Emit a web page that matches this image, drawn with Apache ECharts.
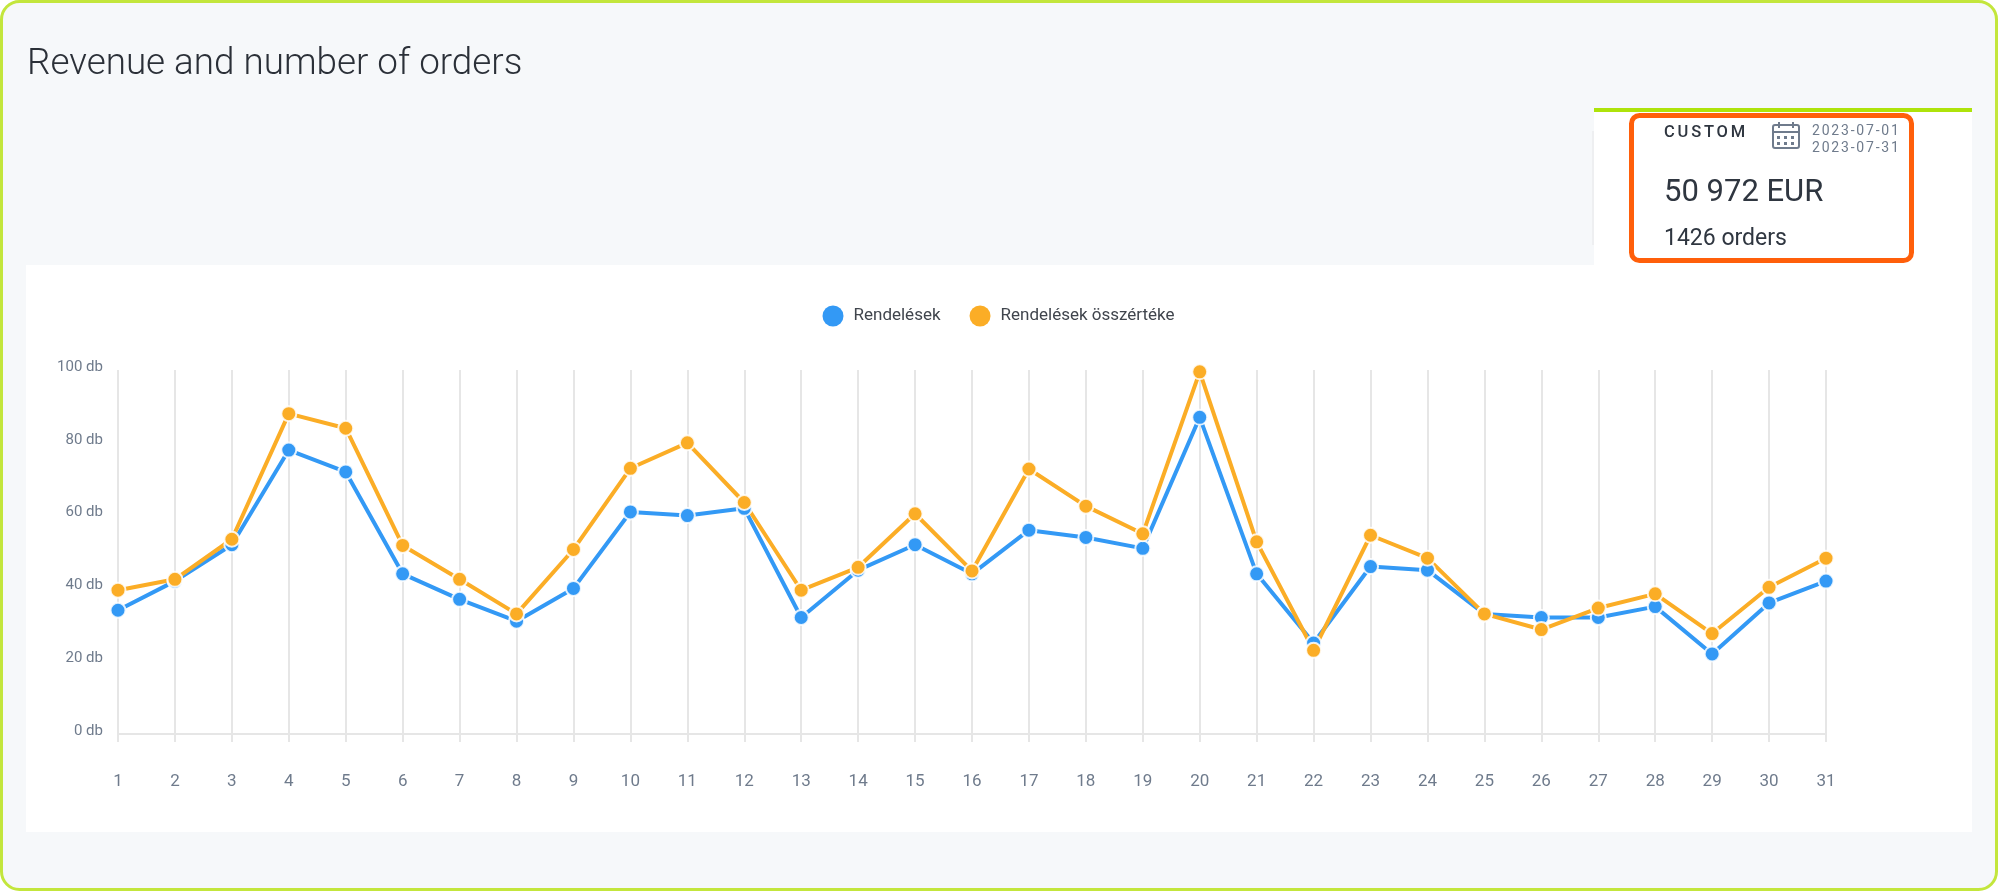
<!DOCTYPE html>
<html>
<head>
<meta charset="utf-8">
<style>
html, body { margin: 0; padding: 0; background: #fff; }
#revenue-orders { width: 1998px; height: 891px; }
.card-text { position: absolute; font-family: Roboto; white-space: nowrap; line-height: 20px; color: #2f3640; }
.period { left: 1664px; top: 122px; font-size: 16.5px; font-weight: 500; letter-spacing: 2.8px; }
.date { left: 1812px; font-size: 14px; letter-spacing: 1.8px; color: #6f7b8c; }
.total { left: 1664px; top: 181px; font-size: 31px; }
.count { left: 1664px; top: 228px; font-size: 23px; }
</style>
</head>
<body>
<div id="revenue-orders"></div>
<div class="card-text period">CUSTOM</div>
<div class="card-text date" style="top:120px">2023-07-01</div>
<div class="card-text date" style="top:137px">2023-07-31</div>
<div class="card-text total">50 972 EUR</div>
<div class="card-text count">1426 orders</div>
<script src="https://cdn.jsdelivr.net/npm/echarts@6/dist/echarts.min.js"></script>
<script>
var days = ['1','2','3','4','5','6','7','8','9','10','11','12','13','14','15','16','17','18','19','20','21','22','23','24','25','26','27','28','29','30','31'];
var orders = [34,42,52,78,72,44,37,31,40,61,60,62,32,45,52,44,56,54,51,87,44,25,46,45,33,32,32,35,22,36,42];
// second series is on a hidden EUR scale, read here against the db axis
var orderValue = [39.5,42.5,53.5,88,84,51.8,42.5,33,50.7,73,80,63.6,39.5,45.8,60.5,44.8,72.8,62.6,55,99.5,52.8,23,54.6,48.3,33,28.7,34.6,38.5,27.6,40.3,48.3];
var seriesNames = ['Rendelések', 'Rendelések összértéke'];
var seriesColors = ['#3399f5', '#fbad26'];

var chart = echarts.init(document.getElementById('revenue-orders'));

var font = 'Roboto';
var icon = '#6f7b8c';

function box(x, y, w, h, fill, r, stroke, lw, z) {
    return {
        type: 'rect', z: z === undefined ? -1 : z,
        shape: { x: x, y: y, width: w, height: h, r: r || 0 },
        style: { fill: fill, stroke: stroke || null, lineWidth: lw || 0 }
    };
}

var furniture = [
    box(1.5, 1.5, 1995, 888, '#f6f8fa', 18, '#c3e63c', 3, -3),
    box(26, 265, 1946, 567, '#ffffff'),
    box(1592, 131, 2, 114, '#eeeff1'),
    box(1594, 112, 378, 153, '#ffffff'),
    box(1594, 108, 378, 4, '#aee30a'),
    box(1631.5, 115.5, 280, 145, 'transparent', 8, '#ff5f0a', 5, 3),
    // calendar icon
    box(1773, 125, 26, 23, 'transparent', 2, icon, 2, 5),
    box(1773, 131, 26, 2, icon, 0, null, 0, 5),
    box(1778, 122, 2, 6, icon, 0, null, 0, 5),
    box(1792, 122, 2, 6, icon, 0, null, 0, 5)
];
[1778, 1785, 1792].forEach(function (cx) {
    [137, 143].forEach(function (cy) {
        furniture.push(box(cx - 1, cy - 1, 3, 3, icon, 0, null, 0, 5));
    });
});

function lineSeries(idx, data) {
    return {
        name: seriesNames[idx],
        type: 'line',
        data: data,
        symbol: 'circle',
        symbolSize: 15,
        showSymbol: true,
        clip: false,
        lineStyle: { width: 4, color: seriesColors[idx] },
        itemStyle: { color: seriesColors[idx], borderColor: 'rgba(255,255,255,0.85)', borderWidth: 2 },
        emphasis: { disabled: true }
    };
}

var option = {
    animation: false,
    color: seriesColors,
    title: {
        text: 'Revenue and number of orders',
        left: 22, top: 41,
        textStyle: { fontFamily: font, fontWeight: 300, fontSize: 36.8, color: '#2b3038' }
    },
    legend: {
        data: seriesNames,
        left: 817.5, top: 300.5,
        icon: 'circle',
        itemWidth: 21, itemHeight: 21,
        itemGap: 29,
        itemStyle: { borderWidth: 0 },
        textStyle: { fontFamily: font, fontSize: 17, color: '#40454d', padding: [0, 0, 0, 5] }
    },
    grid: { left: 118, right: 172, top: 370, bottom: 157 },
    xAxis: {
        type: 'category',
        data: days,
        boundaryGap: false,
        axisLine: { lineStyle: { color: '#e6e6e6', width: 2 } },
        axisTick: { show: true, length: 8, lineStyle: { color: '#e6e6e6', width: 2 } },
        splitLine: { show: true, lineStyle: { color: '#e6e6e6', width: 2 } },
        axisLabel: { interval: 0, margin: 48, fontFamily: font, fontSize: 17, color: '#6f7b8c', verticalAlign: 'middle', hideOverlap: false }
    },
    yAxis: {
        type: 'value',
        min: 0, max: 100, interval: 20,
        axisLine: { show: false },
        axisTick: { show: false },
        splitLine: { show: false },
        axisLabel: { margin: 15, fontFamily: font, fontSize: 15, lineHeight: 6, verticalAlign: 'bottom', color: '#6f7b8c', formatter: '{value} db', showMaxLabel: true }
    },
    series: [lineSeries(0, orders), lineSeries(1, orderValue)],
    graphic: { elements: furniture }
};
chart.setOption(option);
window.addEventListener('resize', function () {
    chart.resize();
});
</script>
</body>
</html>
